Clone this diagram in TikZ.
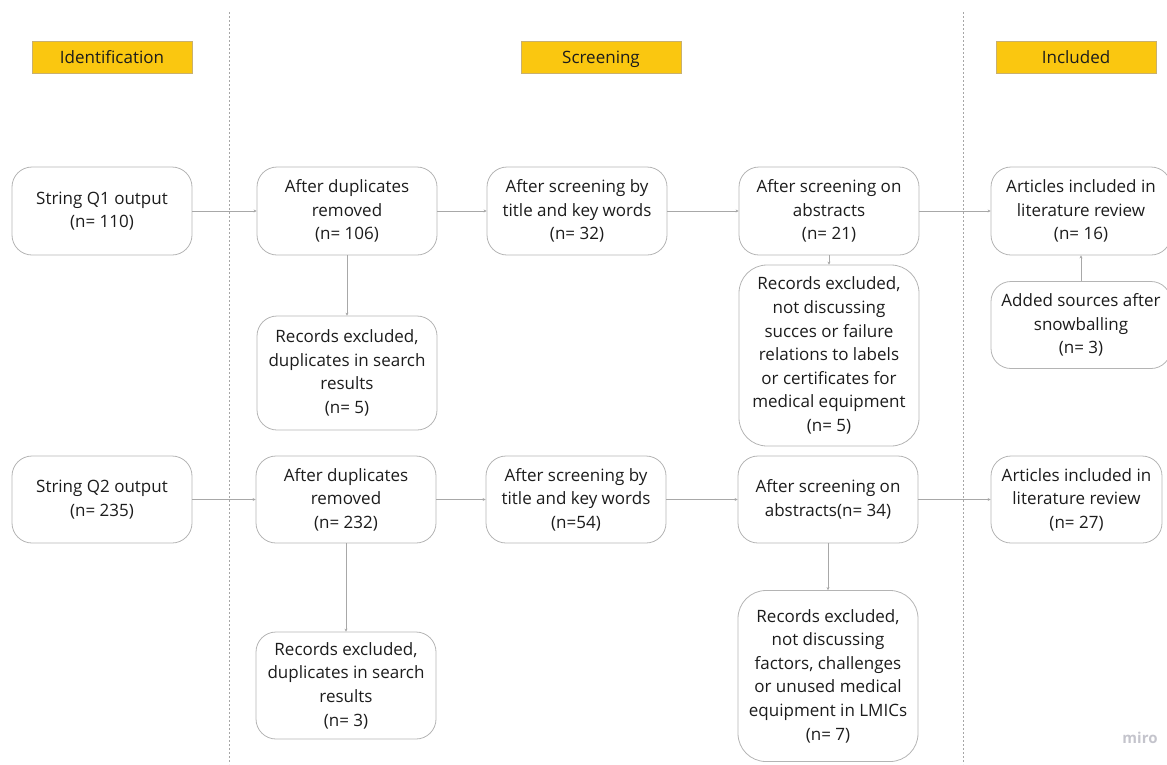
\documentclass[tikz,border=0pt]{standalone}
\usepackage{fontspec}
\setmainfont{Open Sans}
\usetikzlibrary{arrows.meta}
\definecolor{miroyellow}{HTML}{FAC710}
\definecolor{phaseline}{HTML}{C8B070}
\definecolor{boxline}{HTML}{B4B4B4}
\definecolor{arrowgray}{HTML}{A8A8A8}
\definecolor{inktext}{HTML}{1C1C1C}
\definecolor{markgray}{HTML}{C4C4CC}

\begin{document}
\begin{tikzpicture}[
		x=1pt, y=-1pt,
		box/.style={draw=boxline, line width=0.8pt, rounded corners=20pt, align=center, text=inktext,
			minimum width=180pt, minimum height=88pt, inner sep=2pt, font=\fontsize{17}{23.6}\selectfont},
		tallbox/.style={box, rounded corners=28pt},
		phase/.style={draw=phaseline, fill=miroyellow, line width=0.6pt, minimum width=160pt, minimum height=32pt,
			text=inktext, text height=13pt, text depth=0pt, font=\fontsize{17}{20}\selectfont},
		arrow/.style={-{Stealth[length=3pt, width=3pt]}, draw=arrowgray, line width=0.8pt},
		divider/.style={draw=gray!70, line width=0.8pt, dash pattern=on 2pt off 2pt}
		]
		\useasboundingbox (0,0) rectangle (1167,764);
		
		% phase headers
		\node[phase] (ident) at (112,57) {Identification};
		\node[phase] (screen) at (601,57) {Screening};
		\node[phase] (incl) at (1076,57) {Included};
		
		% phase dividers
		\draw[divider] (229,12) -- (229,764);
		\draw[divider] (963,12) -- (963,764);
		
		% string Q1
		\node[box] (q1) at (102,211) {String Q1 output\\(n= 110)};
		\node[box] (dupa) at (347,211) {After duplicates\\removed\\(n= 106)};
		\node[box] (titlea) at (577,211) {After screening by\\title and key words\\(n= 32)};
		\node[box] (absa) at (829,211) {After screening on\\abstracts\\(n= 21)};
		\node[box] (arta) at (1081,211) {Articles included in\\literature review\\(n= 16)};
		\node[box, minimum height=87pt] (snow) at (1081,325) {Added sources after\\snowballing\\(n= 3)};
		\node[box, minimum height=114pt] (exdupa) at (347,373) {Records excluded,\\duplicates in search\\results\\(n= 5)};
		\node[tallbox, minimum height=181pt] (exabsa) at (829,355.5) {Records excluded,\\not discussing\\succes or failure\\relations to labels\\or certificates for\\medical equipment\\(n= 5)};
		
		% string Q2
		\node[box, minimum height=87pt] (q2) at (102,499.5) {String Q2 output\\(n= 235)};
		\node[box, minimum height=87pt] (dupb) at (346,499.5) {After duplicates\\removed\\(n= 232)};
		\node[box, minimum height=87pt] (titleb) at (576,499.5) {After screening by\\title and key words\\(n=54)};
		\node[box, minimum height=87pt] (absb) at (828,499.5) {After screening on\\abstracts(n= 34)};
		\node[box, minimum height=87pt, minimum width=171pt] (artb) at (1076.5,499.5) {Articles included in\\literature review\\(n= 27)};
		\node[box, minimum height=107pt] (exdupb) at (346,685.5) {Records excluded,\\duplicates in search\\results\\(n= 3)};
		\node[tallbox, minimum height=171pt] (exabsb) at (828,676) {Records excluded,\\not discussing\\factors, challenges\\or unused medical\\equipment in LMICs\\(n= 7)};
		
		% arrows Q1
		\draw[arrow] (q1) -- (dupa);
		\draw[arrow] (dupa) -- (titlea);
		\draw[arrow] (titlea) -- (absa);
		\draw[arrow] (absa) -- (arta);
		\draw[arrow] (dupa) -- (exdupa);
		\draw[arrow] (absa) -- (exabsa);
		\draw[arrow] (snow) -- (arta);
		
		% arrows Q2
		\draw[arrow] (q2) -- (dupb);
		\draw[arrow] (dupb) -- (titleb);
		\draw[arrow] (titleb) -- (absb);
		\draw[arrow] (absb) -- (artb.west);
		\draw[arrow] (dupb) -- (exdupb);
		\draw[arrow] (absb) -- (exabsb);
		
		% watermark
		\node[text=markgray, font=\fontsize{15}{16}\selectfont\bfseries] (miro) at (1140,738) {miro};
		
	\end{tikzpicture}
\end{document}
